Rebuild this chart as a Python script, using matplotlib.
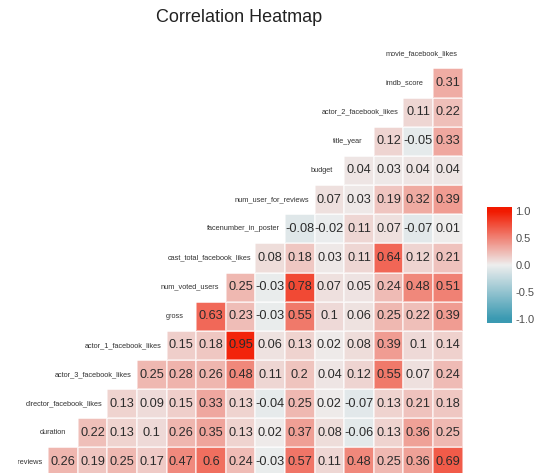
import matplotlib
matplotlib.use("Agg")
import matplotlib.pyplot as plt
import numpy as np
from matplotlib.colors import LinearSegmentedColormap

plt.rcParams['font.family'] = ['Liberation Sans', 'DejaVu Sans']
plt.rcParams['axes.unicode_minus'] = False

# variable names as they appear on the diagonal, top to bottom
variables = ["movie_facebook_likes", "imdb_score", "actor_2_facebook_likes",
             "title_year", "budget", "num_user_for_reviews",
             "facenumber_in_poster", "cast_total_facebook_likes",
             "num_voted_users", "gross", "actor_1_facebook_likes",
             "actor_3_facebook_likes", "director_facebook_likes",
             "duration", "num_critic_for_reviews"]

# lower-triangle correlations, one row per variable (from the 2nd), left to right
corr_rows = [
    [0.31],
    [0.11, 0.22],
    [0.12, -0.05, 0.33],
    [0.04, 0.03, 0.04, 0.04],
    [0.07, 0.03, 0.19, 0.32, 0.39],
    [-0.08, -0.02, 0.11, 0.07, -0.07, 0.01],
    [0.08, 0.18, 0.03, 0.11, 0.64, 0.12, 0.21],
    [0.25, -0.03, 0.78, 0.07, 0.05, 0.24, 0.48, 0.51],
    [0.63, 0.23, -0.03, 0.55, 0.1, 0.06, 0.25, 0.22, 0.39],
    [0.15, 0.18, 0.95, 0.06, 0.13, 0.02, 0.08, 0.39, 0.1, 0.14],
    [0.25, 0.28, 0.26, 0.48, 0.11, 0.2, 0.04, 0.12, 0.55, 0.07, 0.24],
    [0.13, 0.09, 0.15, 0.33, 0.13, -0.04, 0.25, 0.02, -0.07, 0.13, 0.21, 0.18],
    [0.22, 0.13, 0.1, 0.26, 0.35, 0.13, 0.02, 0.37, 0.08, -0.06, 0.13, 0.36, 0.25],
    [0.26, 0.19, 0.25, 0.17, 0.47, 0.6, 0.24, -0.03, 0.57, 0.11, 0.48, 0.25, 0.36, 0.69],
]

n = len(variables)
mat = np.full((n, n), np.nan)
for i, row in enumerate(corr_rows, start=1):
    a = n - 1 - i
    for k, v in enumerate(row):
        mat[a, n - i + k] = v

cmap = LinearSegmentedColormap.from_list("ggcorr", ["#3B9AB2", "#EEEEEE", "#F21A00"])

fig = plt.figure(figsize=(5.43, 4.73), dpi=100)
ax = fig.add_axes([0.034, -0.0076, 0.8181, 0.9245])
edges = np.arange(n + 1) - 0.5
ax.pcolormesh(edges, edges, np.ma.masked_invalid(mat), cmap=cmap, vmin=-1, vmax=1,
              edgecolor=(1, 1, 1, 0.5), linewidth=0.15)
ax.set_xlim(-0.5, n - 0.5)
ax.set_ylim(-0.5, n - 0.5)
ax.axis("off")

for a in range(n):
    for b in range(n):
        if not np.isnan(mat[a, b]):
            ax.text(b, a, str(mat[a, b]), ha="center", va="center",
                    fontsize=9.2, color="#2b2b2b")

# diagonal labels, placed with hjust ~0.87 like ggcorr, clipped to the panel
renderer = fig.canvas.get_renderer()
px_per_unit = ax.transData.transform((1, 0))[0] - ax.transData.transform((0, 0))[0]
for i, name in enumerate(variables):
    a = n - 1 - i
    t = ax.text(a, a, name, ha="left", va="center", fontsize=5.3,
                color="#333333", clip_on=True)
    w = t.get_window_extent(renderer=renderer).width / px_per_unit
    t.set_x(a - 0.87 * w)

fig.text(0.44, 0.962, "Correlation Heatmap", ha="center", va="center",
         fontsize=13, color="#222222")

# colour bar
cax = fig.add_axes([0.8969, 0.3171, 0.0442, 0.2452])
lim = 1.074
grad = np.linspace(-lim, lim, 256).reshape(-1, 1)
cax.imshow(grad, cmap=cmap, vmin=-1, vmax=1, aspect="auto", origin="lower",
           extent=[0, 1, -lim, lim])
cax.set_xlim(0, 1)
cax.set_ylim(-lim, lim)
cax.set_xticks([])
cax.yaxis.tick_right()
cax.set_yticks([-1.0, -0.5, 0.0, 0.5, 1.0])
cax.set_yticklabels(["-1.0", "-0.5", "0.0", "0.5", "1.0"])
cax.tick_params(axis="y", length=0, pad=3, labelsize=8, labelcolor="#4D4D4D")
for s in cax.spines.values():
    s.set_visible(False)

fig.savefig("out.png", dpi=100)
